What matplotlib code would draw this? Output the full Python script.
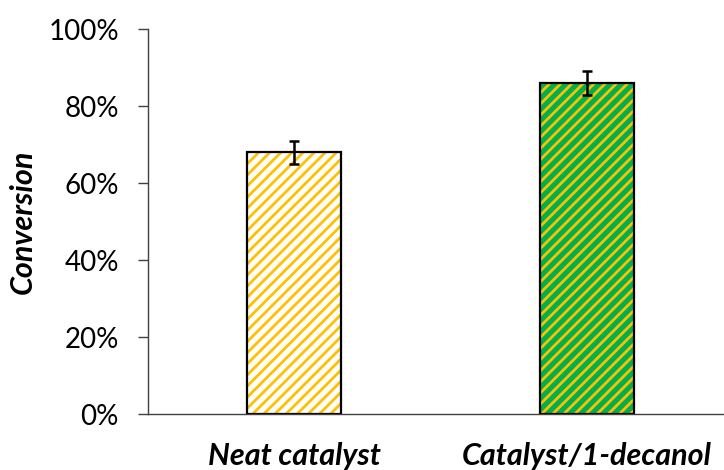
import matplotlib.pyplot as plt
from matplotlib.ticker import PercentFormatter

plt.rcParams['font.family'] = ['Lato', 'DejaVu Sans']
plt.rcParams['hatch.linewidth'] = 2.0

categories = ['Neat catalyst', 'Catalyst/1-decanol']
conversion = [68, 86]
errors = [3, 3]
face_colors = ['white', '#00B050']
hatch_colors = ['#FFC000', '#FFC000']

fig = plt.figure(figsize=(7.24, 4.70), dpi=100)
ax = fig.add_axes([0.2044, 0.119, 0.808, 0.819])

x = range(len(categories))
for i, (v, fc, hc) in enumerate(zip(conversion, face_colors, hatch_colors)):
    # hatch layer, then black outline on top
    ax.bar(i, v, width=0.32, color=fc, edgecolor=hc, hatch='///', linewidth=0)
    ax.bar(i, v, width=0.32, fill=False, edgecolor='black', linewidth=1.6)

ax.errorbar(list(x), conversion, yerr=errors, fmt='none', ecolor='black',
            elinewidth=1.8, capsize=3.5, capthick=1.8)

ax.set_xlim(-0.5, 1.5)
ax.set_ylim(0, 100)
ax.set_yticks([0, 20, 40, 60, 80, 100])
ax.yaxis.set_major_formatter(PercentFormatter(decimals=0))
ax.set_xticks(list(x))
ax.set_xticklabels(categories, fontsize=22, fontweight='bold', fontstyle='italic')
ax.tick_params(axis='x', length=0, pad=20)
ax.tick_params(axis='y', length=7, width=1, color='#404040', labelsize=20, pad=14)
ax.set_ylabel('Conversion', fontsize=22, fontweight='bold', fontstyle='italic', labelpad=8)

for s in ['top', 'right']:
    ax.spines[s].set_visible(False)
for s in ['left', 'bottom']:
    ax.spines[s].set_color('#404040')
    ax.spines[s].set_linewidth(1)

fig.savefig('out.png', dpi=100)
